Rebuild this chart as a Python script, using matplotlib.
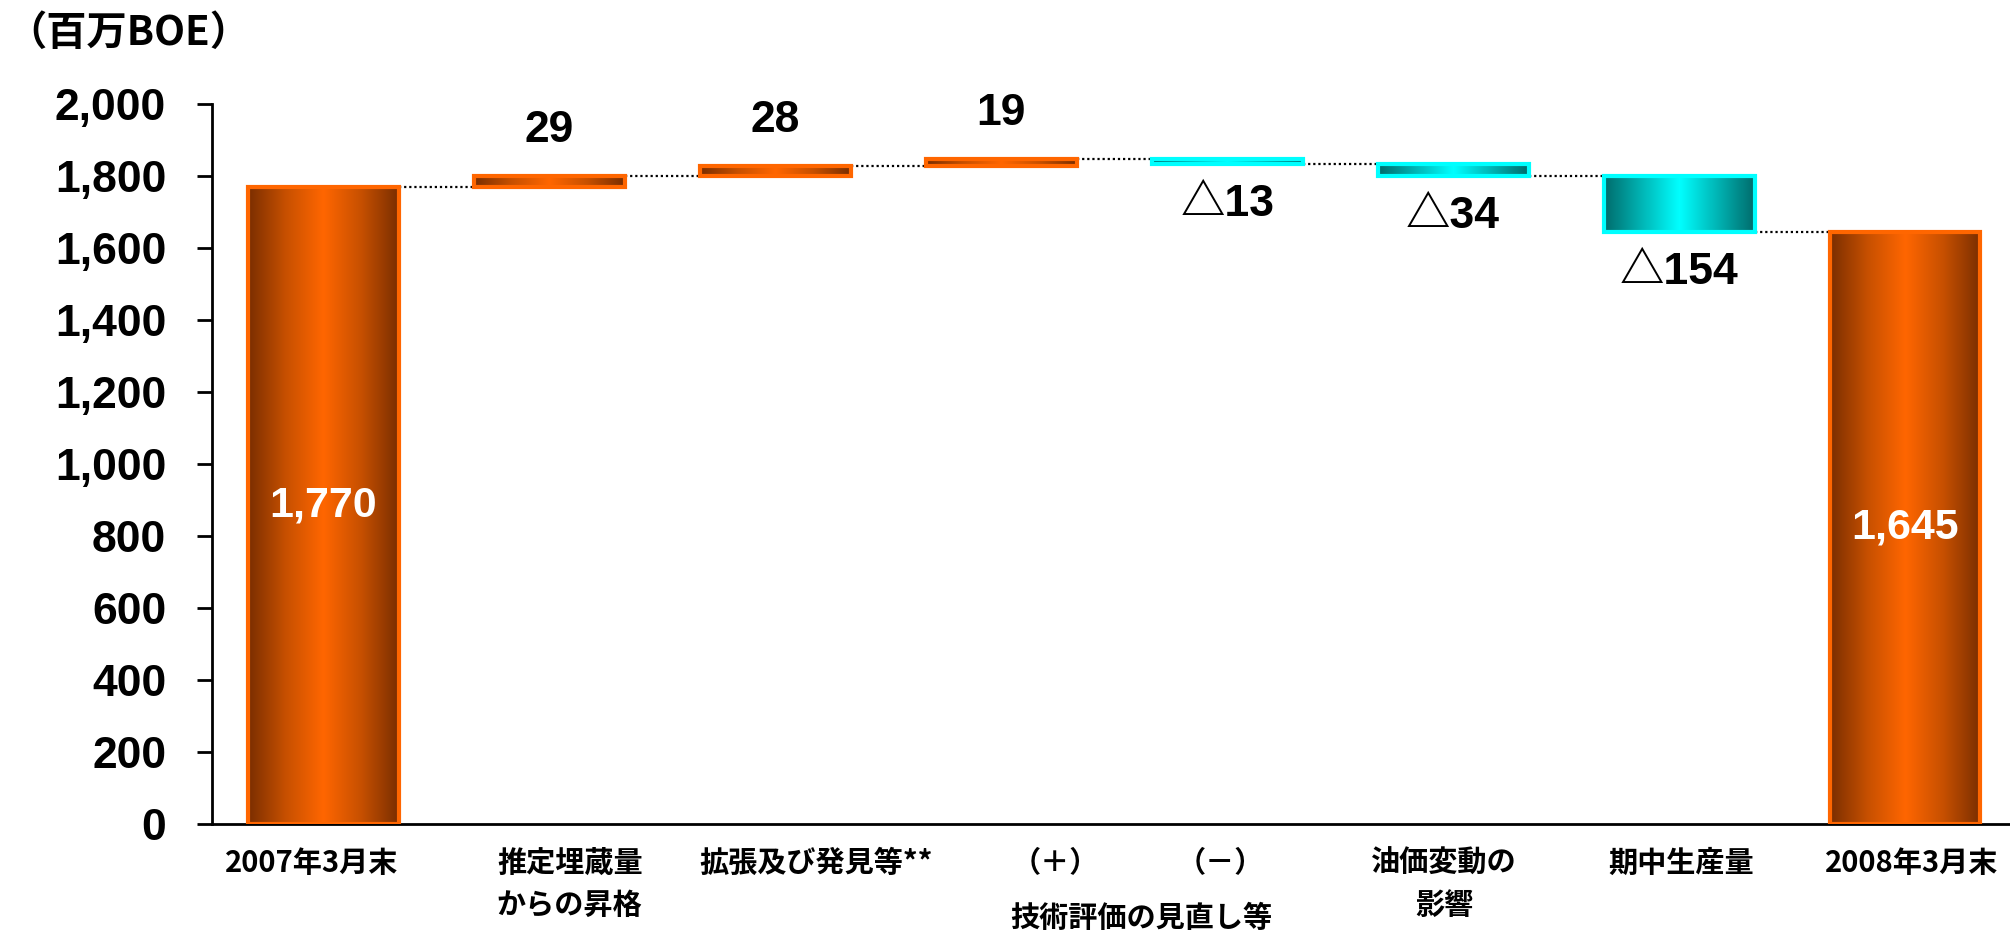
import numpy as np
import matplotlib
matplotlib.use("Agg")
import matplotlib.pyplot as plt
from matplotlib.colors import LinearSegmentedColormap

# ---- data ----
categories = ["2007年3月末", "推定埋蔵量\nからの昇格", "拡張及び発見等**", "（＋）", "（－）",
              "油価変動の\n影響", "期中生産量", "2008年3月末"]
start_value = 1770
end_value = 1645
changes = [29, 28, 19, -13, -34, -154]
change_labels = ["29", "28", "19", "△13", "△34", "△154"]
yticks = list(range(0, 2001, 200))
shared_label = "技術評価の見直し等"

# ---- layout / style ----
label_shift = [-0.05, 0.09, 0.18, 0.24, -0.03, -0.04, 0.01, 0.03]
shared_label_x = 3.62
bar_w = 0.668
cjk = ["Noto Sans CJK JP", "DejaVu Sans"]
latin = ["Liberation Sans", "DejaVu Sans"]
num_font = ["Liberation Sans", "Noto Sans CJK JP", "DejaVu Sans"]

orange_cm = LinearSegmentedColormap.from_list("og", ["#7a2e00", "#c75000", "#ff6600", "#c75000", "#7a2e00"])
cyan_cm = LinearSegmentedColormap.from_list("cy", ["#006b6b", "#00b5b5", "#00ffff", "#00b5b5", "#006b6b"])

fig = plt.figure(figsize=(20.1, 9.33), dpi=100)
ax = fig.add_axes([212 / 2010, 109 / 933, 1806 / 2010, 720 / 933])

# running totals
levels = list(start_value + np.cumsum(changes))
prev = [start_value] + levels[:-1]
x = np.arange(len(categories))

bottoms = [0] + [min(p, l) for p, l in zip(prev, levels)] + [0]
heights = [start_value] + [abs(c) for c in changes] + [end_value]
is_up = [True] + [c > 0 for c in changes] + [True]

edge_cols = ["#ff6600" if u else "#00ffff" for u in is_up]
bars = ax.bar(x, heights, bottom=bottoms, width=bar_w, facecolor="none",
              edgecolor=edge_cols, linewidth=3, zorder=3)

grad = np.linspace(0, 1, 256).reshape(1, -1)
for p, u in zip(bars.patches, is_up):
    x0, y0 = p.get_x(), p.get_y()
    ax.imshow(grad, extent=[x0, x0 + p.get_width(), y0, y0 + p.get_height()],
              aspect="auto", cmap=orange_cm if u else cyan_cm, zorder=2,
              interpolation="bicubic")

# connectors
conn_levels = [start_value] + levels
for i, lv in enumerate(conn_levels):
    ax.hlines(lv, x[i] + bar_w / 2, x[i + 1] - bar_w / 2, colors="black",
              linestyles=(0, (1, 1.3)), linewidth=1.6, zorder=1)

# value labels
for i, (c, lab) in enumerate(zip(changes, change_labels)):
    p = bars.patches[i + 1]
    if c > 0:
        ax.annotate(lab, (x[i + 1], p.get_y() + p.get_height()), xytext=(0, 33),
                    textcoords="offset points", ha="center", va="center",
                    fontsize=32, fontweight="bold", family=num_font)
    else:
        ax.annotate(lab, (x[i + 1], p.get_y()), xytext=(0, -29),
                    textcoords="offset points", ha="center", va="center",
                    fontsize=32, fontweight="bold", family=num_font)

for i, v in [(0, start_value), (len(categories) - 1, end_value)]:
    ax.text(x[i], v / 2, f"{v:,}", ha="center", va="center", color="white",
            fontsize=31, fontweight="bold", family=latin)

# axes styling
ax.set_xlim(-0.493, 7.5)
ax.set_ylim(0, 2000)
ax.set_yticks(yticks)
ax.set_yticklabels([f"{t:,}" for t in yticks], fontsize=32, fontweight="bold", family=latin)
ax.tick_params(axis="y", direction="out", length=11, width=2, pad=22)
ax.set_xticks([])
for s in ["top", "right"]:
    ax.spines[s].set_visible(False)
for s in ["left", "bottom"]:
    ax.spines[s].set_linewidth(2)

# category labels
for i, lab in enumerate(categories):
    ax.text(x[i] + label_shift[i], -0.033, lab, transform=ax.get_xaxis_transform(),
            ha="center", va="top", fontsize=21, fontweight="bold", family=cjk,
            linespacing=1.5)
ax.annotate(shared_label, (shared_label_x, 0), xycoords=("data", "axes fraction"),
            xytext=(0, -68), textcoords="offset points", ha="center", va="center",
            fontsize=21, fontweight="bold", family=cjk)

fig.text(6 / 2010, 1 - 33 / 933, "（百万BOE）", ha="left", va="center",
         fontsize=29, fontweight="bold", family=cjk)

fig.savefig("out.png", dpi=100)
